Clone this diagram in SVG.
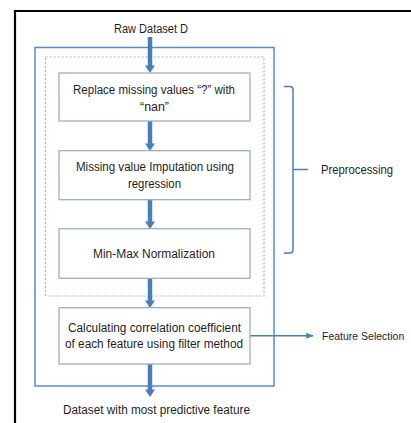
<svg xmlns="http://www.w3.org/2000/svg" width="411" height="423" viewBox="0 0 411 423">
<defs>
<style>
text{font-family:"Liberation Sans",Arial,sans-serif;font-size:12.5px;fill:#1e1e1e;text-anchor:middle;dominant-baseline:central}
.box{fill:#fff;stroke:#95a9c1;stroke-width:1.2}
.frame{fill:none;stroke:#5b8bc4;stroke-width:1.5}
.dash{fill:none;stroke:#9fb5cf;stroke-width:1.2;stroke-dasharray:2 2}
.shaft{fill:none;stroke:#4a7ebb;stroke-width:4.5}
.head{fill:#4a7ebb}
.thin{fill:none;stroke:#4a7ebb;stroke-width:1.5}
</style>
<marker id="ah" viewBox="0 0 10 10" refX="9" refY="5" markerWidth="5" markerHeight="5" orient="auto"><path d="M0,1 L10,5 L0,9 z" fill="#4a7ebb"/></marker>
</defs>
<rect width="411" height="423" fill="#fff"/>
<path d="M15,423 V11 H411" fill="none" stroke="#000" stroke-width="2.2"/>
<g id="outer"><rect class="frame" x="35" y="47.5" width="239" height="338.5"/></g>
<g id="preproc-group"><rect class="dash" x="45.5" y="57" width="218.5" height="239"/></g>
<g id="connectors">
<line class="shaft" x1="150" y1="37" x2="150" y2="66"/><path class="head" d="M145,65.5 H155 L150,73 z"/>
<line class="shaft" x1="150" y1="121" x2="150" y2="144"/><path class="head" d="M145,143.5 H155 L150,151 z"/>
<line class="shaft" x1="150" y1="199.5" x2="150" y2="222"/><path class="head" d="M145,221.5 H155 L150,229 z"/>
<line class="shaft" x1="150" y1="278" x2="150" y2="301"/><path class="head" d="M145,300.5 H155 L150,308 z"/>
<line class="shaft" x1="150" y1="364" x2="150" y2="390"/><path class="head" d="M145,389.5 H155 L150,397 z"/>
<line class="thin" x1="250" y1="335.7" x2="313" y2="335.7" marker-end="url(#ah)"/>
<path class="thin" d="M284,86.5 H290 Q293,86.5 293,89.5 V250 Q293,253 290,253 H284 M293,169.5 H308" stroke-width="1.6"/>
</g>
<g id="raw"><text x="151" y="28.5" textLength="74" lengthAdjust="spacingAndGlyphs">Raw Dataset D</text></g>
<g id="box1"><rect class="box" x="59" y="73" width="191" height="48"/><text x="154" y="89.5" textLength="162" lengthAdjust="spacingAndGlyphs">Replace missing values “?” with</text><text x="154.5" y="107" textLength="29" lengthAdjust="spacingAndGlyphs">“nan”</text></g>
<g id="box2"><rect class="box" x="59" y="150.7" width="191" height="49"/><text x="155" y="166.7" textLength="158" lengthAdjust="spacingAndGlyphs">Missing value Imputation using</text><text x="154.5" y="183.5" textLength="53" lengthAdjust="spacingAndGlyphs">regression</text></g>
<g id="box3"><rect class="box" x="59" y="228.7" width="191" height="49.6"/><text x="154" y="253.5" textLength="122" lengthAdjust="spacingAndGlyphs">Min-Max Normalization</text></g>
<g id="box4"><rect class="box" x="59" y="307.7" width="191" height="56.3"/><text x="154.5" y="327.5" textLength="173" lengthAdjust="spacingAndGlyphs">Calculating correlation coefficient</text><text x="154" y="344" textLength="178" lengthAdjust="spacingAndGlyphs">of each feature using filter method</text></g>
<g id="preproc-label"><text x="321" y="169.5" style="text-anchor:start" textLength="72" lengthAdjust="spacingAndGlyphs">Preprocessing</text></g>
<g id="fs-label"><text x="322" y="336" style="text-anchor:start;font-size:10.5px">Feature Selection</text></g>
<g id="out"><text x="156.5" y="409.5" textLength="187" lengthAdjust="spacingAndGlyphs">Dataset with most predictive feature</text></g>
</svg>
